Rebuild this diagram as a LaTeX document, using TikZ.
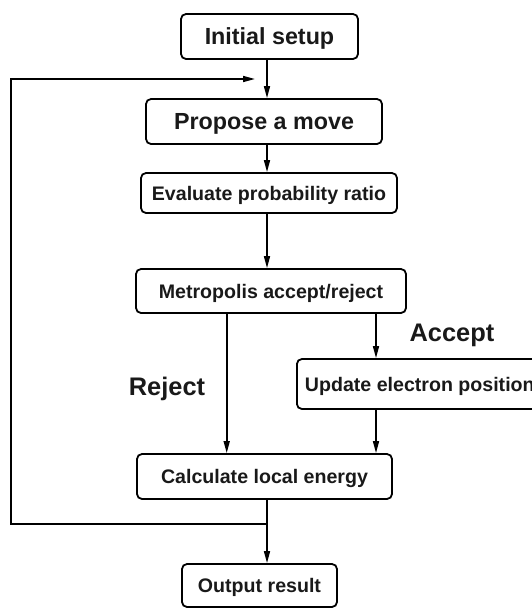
\documentclass[tikz,border=0pt]{standalone}
\usepackage{fontspec}
\setmainfont{Liberation Sans}
\usetikzlibrary{arrows.meta}

\begin{document}
\begin{tikzpicture}[x=1pt,y=1pt,
    box/.style={draw,line width=1.8pt,rounded corners=5pt,inner sep=0pt,
      text=black!90,font=\bfseries\fontsize{19.6}{22}\selectfont,
      text height=14.1pt,text depth=0pt},
    bigbox/.style={box,font=\bfseries\fontsize{23.3}{26}\selectfont,text height=16.7pt},
    flow/.style={line width=1.6pt,-{Triangle[length=12pt,width=6pt]}},
    tag/.style={text=black!90,font=\bfseries\fontsize{25.4}{28}\selectfont}]
    \useasboundingbox (0,0) rectangle (531,-608);

    \node[bigbox,minimum width=177pt,minimum height=45pt] (init) at (269.5,-36.5) {Initial setup};
    \node[bigbox,minimum width=236pt,minimum height=45pt] (propose) at (264,-121.5) {Propose a move};
    \node[box,minimum width=256pt,minimum height=40pt] (ratio) at (269,-193) {Evaluate probability ratio};
    \node[box,minimum width=270pt,minimum height=44pt] (metro) at (271,-291) {Metropolis accept/reject};
    \node[box,anchor=west,inner xsep=8pt,minimum height=50pt] (update) at (296,-384) {Update electron position};
    \node[box,minimum width=255pt,minimum height=45pt] (energy) at (264.5,-476.5) {Calculate local energy};
    \node[box,minimum width=155pt,minimum height=43pt] (output) at (259.5,-585.5) {Output result};

    \node[tag] (accept) at (452,-335) {Accept};
    \node[tag] (reject) at (167,-389) {Reject};

    \coordinate (spine) at (267,-79);
    \coordinate (rejx) at (226.7,0);
    \coordinate (accx) at (376,0);
    \coordinate (loopjoin) at (267,-524);
    \coordinate (loopdown) at (11,-524);
    \coordinate (loopup) at (11,-79);
    \coordinate (loopend) at (255,-79);

    \draw[flow] (init.south -| spine) -- (propose.north -| spine);
    \draw[flow] (propose.south -| spine) -- (ratio.north -| spine);
    \draw[flow] (ratio.south -| spine) -- (metro.north -| spine);
    \draw[flow] (metro.south -| rejx) -- (energy.north -| rejx);
    \draw[flow] (metro.south -| accx) -- (update.north -| accx);
    \draw[flow] (update.south -| accx) -- (energy.north -| accx);
    \draw[flow] (energy.south -| spine) -- (output.north -| spine);

    % loop back to the next move
    \draw[flow] (loopjoin) -- (loopdown) -- (loopup) -- (loopend);
\end{tikzpicture}
\end{document}
